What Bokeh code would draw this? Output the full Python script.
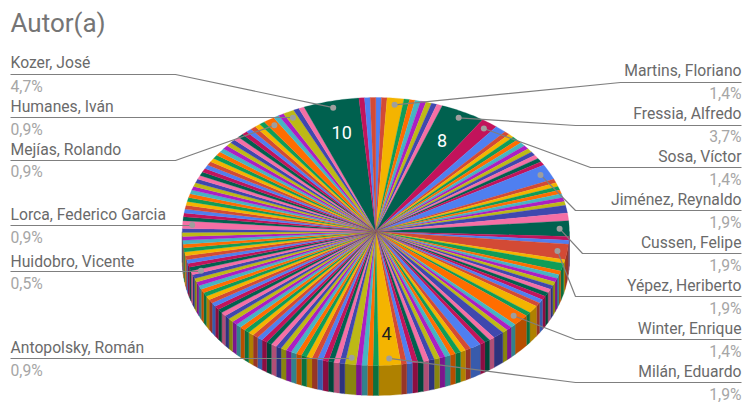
import math
from bokeh.plotting import figure
from bokeh.embed import file_html
from bokeh.resources import INLINE
from bokeh.core.properties import value

TITLE = "Autor(a)"
PALETTE = ["#4F7FF0", "#D34A35", "#F4B400", "#0F9D58", "#FF6D00", "#46B5C2",
           "#AB1FC4", "#BDB916", "#3F48AE", "#F56FA5", "#00614F", "#C2135B"]

# one count per slice, clockwise from 12 o'clock
slice_values = [1, 1, 3, 1, 1, 1, 1, 1, 1, 1, 8, 3,            # 0-11
                2, 1, 1, 1, 1, 1, 1, 1, 1, 1, 1, 1,            # 12-23
                4, 1, 1, 1, 1, 1, 1, 1, 2, 2, 4, 1,            # 24-35
                1, 4, 1, 2, 1, 1, 1, 1, 1, 1, 1, 1,            # 36-47
                1, 1, 2, 1, 3, 1, 1, 1, 2, 1, 1, 1,            # 48-59
                2, 1, 1, 1, 1, 1, 1, 1, 1, 1, 1, 1,            # 60-71
                1, 1, 4, 1, 1, 1, 1, 2, 1, 1, 1, 1,            # 72-83
                1, 1, 1, 1, 1, 1, 1, 1, 1, 1, 1, 1,            # 84-95
                1, 1, 1, 1, 1, 1, 1, 1, 1, 1, 1, 1,            # 96-107
                1, 1, 1, 1, 1, 1, 1, 1, 1, 1, 1, 1,            # 108-119
                1, 1, 1, 1, 1, 1, 1, 1, 1, 2, 1, 1,            # 120-131
                1, 1, 1, 1, 1, 1, 1, 1, 1, 1, 1, 1,            # 132-143
                1, 1, 1, 1, 1, 1, 1, 1, 1, 1, 1, 1,            # 144-155
                1, 1, 1, 1, 2, 1, 1, 2, 1, 1, 10, 1,           # 156-167
                1, 1]                                          # 168-169

# labelled slices
label_names = ["Kozer, José", "Humanes, Iván", "Mejías, Rolando", "Lorca, Federico Garcia",
               "Huidobro, Vicente", "Antopolsky, Román",
               "Martins, Floriano", "Fressia, Alfredo", "Sosa, Víctor", "Jiménez, Reynaldo",
               "Cussen, Felipe", "Yépez, Heriberto", "Winter, Enrique", "Milán, Eduardo"]
label_pcts = ["4,7%", "0,9%", "0,9%", "0,9%", "0,5%", "0,9%",
              "1,4%", "3,7%", "1,4%", "1,9%", "1,9%", "1,9%", "1,4%", "1,9%"]
label_slice = [166, 163, 160, 129, 117, 79, 2, 10, 11, 24, 34, 37, 52, 74]

# layout
CX, CY, RX, RY, DEPTH = 375.3, 231.0, 193.5, 134.0, 30.0
NAME_Y = [61.5, 105.5, 148.5, 213.5, 260.5, 346.5, 69.5, 112.5, 155.5, 198.5, 241.5, 284.5, 327.5, 370.5]
PCT_Y = [85.5, 128.5, 170.5, 236.5, 282.5, 369.5, 92.5, 135.5, 178.5, 221.5, 264.5, 307.5, 350.5, 393.5]
LINE_Y = [74, 117, 160, 225, 271, 358, 82, 125, 167, 210, 253, 296, 339, 382]
ELBOW_X = [175, 292, 175, 192, 200, 352, 620, 575, 590, 575, 582, 575, 575, 575]
LEFT_X, RIGHT_X = 10, 741

total = sum(slice_values)
starts = []
acc = 0
for v in slice_values:
    starts.append(acc)
    acc += v


def ang(u):
    return u / total * 2 * math.pi


def pt(t, r=1.0):
    return CX + r * RX * math.sin(t), CY - r * RY * math.cos(t)


def darken(c, f=0.72):
    return "#%02x%02x%02x" % tuple(int(int(c[i:i + 2], 16) * f) for i in (1, 3, 5))


def mid(i):
    return ang(starts[i] + slice_values[i] / 2)


p = figure(width=750, height=402, x_range=(0, 750), y_range=(402, 0),
           toolbar_location=None, output_backend="svg", min_border=0)
p.axis.visible = False
p.xgrid.visible = False
p.ygrid.visible = False
p.outline_line_color = None
p.background_fill_color = "white"

# side wall (front half only)
sx, sy, sc = [], [], []
for i, v in enumerate(slice_values):
    a0, a1 = max(ang(starts[i]), math.pi / 2), min(ang(starts[i] + v), 3 * math.pi / 2)
    if a1 <= a0:
        continue
    ts = [a0 + (a1 - a0) * k / 4 for k in range(5)]
    top = [pt(t) for t in ts]
    sx.append([q[0] for q in top] + [q[0] for q in reversed(top)])
    sy.append([q[1] for q in top] + [q[1] + DEPTH for q in reversed(top)])
    sc.append(darken(PALETTE[i % 12]))
p.patches(sx, sy, fill_color=sc, line_color=sc, line_width=0.3)

# top face
fx, fy, fc = [], [], []
for i, v in enumerate(slice_values):
    a0, a1 = ang(starts[i]), ang(starts[i] + v)
    n = max(2, int(v * 2))
    ts = [a0 + (a1 - a0) * k / n for k in range(n + 1)]
    fx.append([CX] + [pt(t)[0] for t in ts])
    fy.append([CY] + [pt(t)[1] for t in ts])
    fc.append(PALETTE[i % 12])
p.patches(fx, fy, fill_color=fc, fill_alpha=1.0, line_color=fc, line_width=0.25)

# numbers inside the largest slices
for i, col in ((166, "white"), (10, "white"), (74, "#212121")):
    x, y = pt(mid(i), 0.76)
    p.text([x], [y], text=[str(slice_values[i])], text_color=col,
           text_font=value("Roboto"), text_font_size="18px",
           text_align="center", text_baseline="middle")

# leaders and labels
mx, my = [], []
for k, i in enumerate(label_slice):
    x, y = pt(mid(i), 0.95)
    mx.append(x)
    my.append(y)
    end = LEFT_X if k < 6 else RIGHT_X
    p.line([x, ELBOW_X[k], end], [y, LINE_Y[k], LINE_Y[k]], line_color="#7f7f7f", line_width=1.2)
p.scatter(mx, my, size=6, fill_color="#9e9e9e", line_color=None)

for k, name in enumerate(label_names):
    left = k < 6
    p.text([LEFT_X if left else RIGHT_X], [NAME_Y[k]], text=[name], text_color="#6a6a6a",
           text_font=value("Roboto"), text_font_size="15.7px",
           text_align="left" if left else "right", text_baseline="middle")
    p.text([LEFT_X if left else RIGHT_X], [PCT_Y[k]], text=[label_pcts[k]], text_color="#a6a6a6",
           text_font=value("Roboto"), text_font_size="15.7px",
           text_align="left" if left else "right", text_baseline="middle")

p.text([10], [22], text=[TITLE], text_color="#757575", text_font=value("Roboto"),
       text_font_size="26px", text_align="left", text_baseline="middle")

open("out.html", "w").write(file_html(p, INLINE))
